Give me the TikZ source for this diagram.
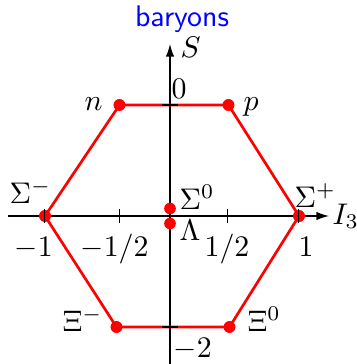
\documentclass[tikz,border=0pt]{standalone}
\usetikzlibrary{arrows.meta}
\begin{document}
\begin{tikzpicture}[x=0.335pt,y=-0.335pt,
  axis/.style={line width=0.43pt,black},
  hexline/.style={line width=0.9pt,red},
  dot/.style={circle,fill=red,inner sep=0pt,minimum size=3.9pt},
  tick/.style={line width=0.43pt,black},
  lab/.style={inner sep=0pt,anchor=base west},
  tip/.style={-{Latex[length=4.2pt,width=2.8pt]}}]
\useasboundingbox (0,0) rectangle (357,364);
% axes
\coordinate (xl) at (8,216);
\coordinate (xr) at (329,216);
\coordinate (yb) at (170,364);
\coordinate (yt) at (170,44);
\draw[axis,tip] (xl) -- (xr);
\draw[axis,tip] (yb) -- (yt);
% particles
\node[dot] (n) at (119.5,105) {};
\node[dot] (p) at (228.5,105) {};
\node[dot] (sm) at (45,216) {};
\node[dot] (sp) at (299,216) {};
\node[dot] (xm) at (116.5,327) {};
\node[dot] (x0) at (229.5,327) {};
\node[dot] (s0) at (170,208.5) {};
\node[dot] (la) at (170,223.5) {};
\draw[hexline] (n.center) -- (p.center) -- (sp.center) -- (x0.center) -- (xm.center) -- (sm.center) -- cycle;
\foreach \d in {n,p,sm,sp,xm,x0}
  \fill[red] (\d) circle[radius=1.95pt];
% ticks
\coordinate (t1) at (44.5,216);
\coordinate (t2) at (119.5,216);
\coordinate (t3) at (227.5,216);
\coordinate (t4) at (298.5,216);
\coordinate (t5) at (170,105);
\coordinate (t6) at (170,327);
\foreach \t in {t1,t2,t3,t4} \draw[tick] ([yshift=7*0.335pt]\t) -- ([yshift=-7*0.335pt]\t);
\foreach \t in {t5,t6} \draw[tick] ([xshift=-8*0.335pt]\t) -- ([xshift=8*0.335pt]\t);
% labels
\node[inner sep=0pt,anchor=base,text=blue,font=\sffamily] (title) at (182,26.7) {baryons};
\node[lab] (lS) at (180,57) {$S$};
\node[lab] (lI) at (332,224) {$I_3$};
\node[lab] (l0) at (171,98) {$0$};
\node[lab] (lm2) at (173,357) {$-2$};
\node[lab] (ln) at (84,110) {$n$};
\node[lab] (lp) at (243,110) {$p$};
\node[lab] (lsm) at (9,203) {$\Sigma^-$};
\node[lab] (ls0) at (179,209) {$\Sigma^0$};
\node[lab] (lsp) at (294,207) {$\Sigma^+$};
\node[lab] (lla) at (179,240) {$\Lambda$};
\node[lab] (lxm) at (62,331) {$\Xi^-$};
\node[lab] (lx0) at (247,331) {$\Xi^0$};
\node[lab] (lm1) at (14,256) {$-1$};
\node[lab] (lmh) at (80,256) {$-1/2$};
\node[lab] (lh) at (204,256) {$1/2$};
\node[lab] (l1) at (298,256) {$1$};
\end{tikzpicture}
\end{document}
